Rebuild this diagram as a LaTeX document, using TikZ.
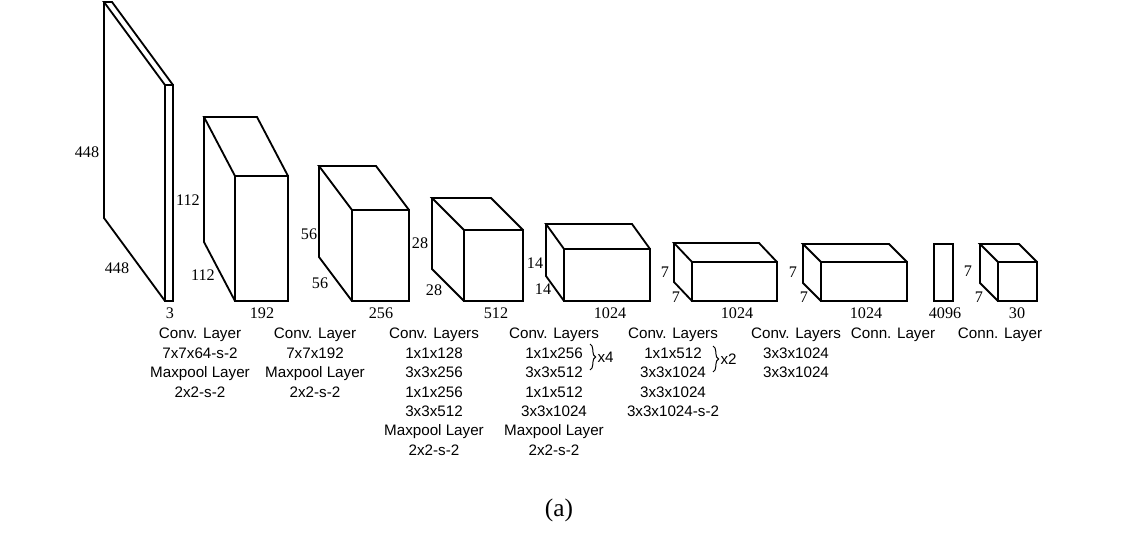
\documentclass[tikz,border=0pt]{standalone}
\usepackage{fontspec}
\setmainfont{Liberation Serif}
\newfontfamily\policesans{Liberation Sans}
\usetikzlibrary{decorations.pathreplacing}
\begin{document}
\begin{tikzpicture}[x=0.025cm,y=-0.025cm]
		% Styles (MODIFIABLES)
		\tikzstyle{arete}=[line width=1.3pt,line join=miter]
		\tikzstyle{cote}=[font=\fontsize{11.5}{13}\selectfont,inner sep=0pt]
		\tikzstyle{legende}=[font=\policesans\fontsize{10.8}{13.8}\selectfont,align=center,anchor=north,inner sep=0pt]
		\tikzstyle{accolade}=[line width=0.7pt,decorate,decoration={brace,amplitude=4pt}]
		\tikzstyle{titre}=[font=\fontsize{18}{20}\selectfont]
		% Dimensions (MODIFIABLES)
		\def\Base{301}
		\def\HautLegende{328}
		% Bloc : x gauche, x droite, y haut, profondeur x, profondeur y
		\def\Bloc#1#2#3#4#5{%
			\draw[arete] (#1,#3) rectangle (#2,\Base);
			\draw[arete] (#1,#3) -- ++(-#4,-#5) -- ++(#2-#1,0) -- (#2,#3);
			\draw[arete] (#1,#3) ++(-#4,-#5) -- ++(0,\Base-#3) -- (#1,\Base);
		}
		\useasboundingbox (0,0) rectangle (1129,534);
		% Blocs
		\Bloc{165}{173}{85}{61}{83}
		\Bloc{235}{288}{176}{31}{59}
		\Bloc{352}{409}{210}{33}{44}
		\Bloc{464}{523}{230}{32}{32}
		\Bloc{564}{650}{249}{18}{25}
		\Bloc{692}{777}{262}{18}{19}
		\Bloc{821}{907}{262}{18}{18}
		\draw[arete] (934,244) rectangle (953,\Base);
		\Bloc{998}{1037}{262}{18}{18}
		% Cotes
		\node[cote] (Ah) at (87,152) {448};
		\node[cote] (Ap) at (117,268) {448};
		\node[cote] (Al) at (170,313) {3};
		\node[cote] (Bh) at (188,200) {112};
		\node[cote] (Bp) at (203,275) {112};
		\node[cote] (Bl) at (262,313) {192};
		\node[cote] (Ch) at (309,234) {56};
		\node[cote] (Cp) at (320,283) {56};
		\node[cote] (Cl) at (381,313) {256};
		\node[cote] (Dh) at (420,243) {28};
		\node[cote] (Dp) at (434,290) {28};
		\node[cote] (Dl) at (496,313) {512};
		\node[cote] (Eh) at (535,263) {14};
		\node[cote] (Ep) at (543,289) {14};
		\node[cote] (El) at (610,313) {1024};
		\node[cote] (Fh) at (665,272) {7};
		\node[cote] (Fp) at (676,297) {7};
		\node[cote] (Fl) at (737,313) {1024};
		\node[cote] (Gh) at (793,272) {7};
		\node[cote] (Gp) at (804,297) {7};
		\node[cote] (Gl) at (866,313) {1024};
		\node[cote] (Hl) at (945,313) {4096};
		\node[cote] (Ih) at (968,271) {7};
		\node[cote] (Ip) at (979,297) {7};
		\node[cote] (Il) at (1017,313) {30};
		% Legendes
		\node[legende] (L1) at (200,\HautLegende) {Conv. Layer\\7x7x64-s-2\\Maxpool Layer\\2x2-s-2};
		\node[legende] (L2) at (315,\HautLegende) {Conv. Layer\\7x7x192\\Maxpool Layer\\2x2-s-2};
		\node[legende] (L3) at (434,\HautLegende) {Conv. Layers\\1x1x128\\3x3x256\\1x1x256\\3x3x512\\Maxpool Layer\\2x2-s-2};
		\node[legende] (L4) at (554,\HautLegende) {Conv. Layers\\1x1x256\\3x3x512\\1x1x512\\3x3x1024\\Maxpool Layer\\2x2-s-2};
		\node[legende] (L5) at (673,\HautLegende) {Conv. Layers\\1x1x512\\3x3x1024\\3x3x1024\\3x3x1024-s-2};
		\node[legende] (L6) at (796,\HautLegende) {Conv. Layers\\3x3x1024\\3x3x1024};
		\node[legende] (L7) at (893,\HautLegende) {Conn. Layer};
		\node[legende] (L8) at (1000,\HautLegende) {Conn. Layer};
		% Accolades
		\coordinate (acc4h) at (590,344);
		\coordinate (acc4b) at (590,370);
		\draw[accolade] (acc4h) -- (acc4b) node[midway,right=5pt,legende,anchor=west] (R4) {x4};
		\coordinate (acc5h) at (713,346);
		\coordinate (acc5b) at (713,372);
		\draw[accolade] (acc5h) -- (acc5b) node[midway,right=5pt,legende,anchor=west] (R5) {x2};
		% Titre
		\node[titre] (titre) at (559,510) {(a)};
\end{tikzpicture}
\end{document}
